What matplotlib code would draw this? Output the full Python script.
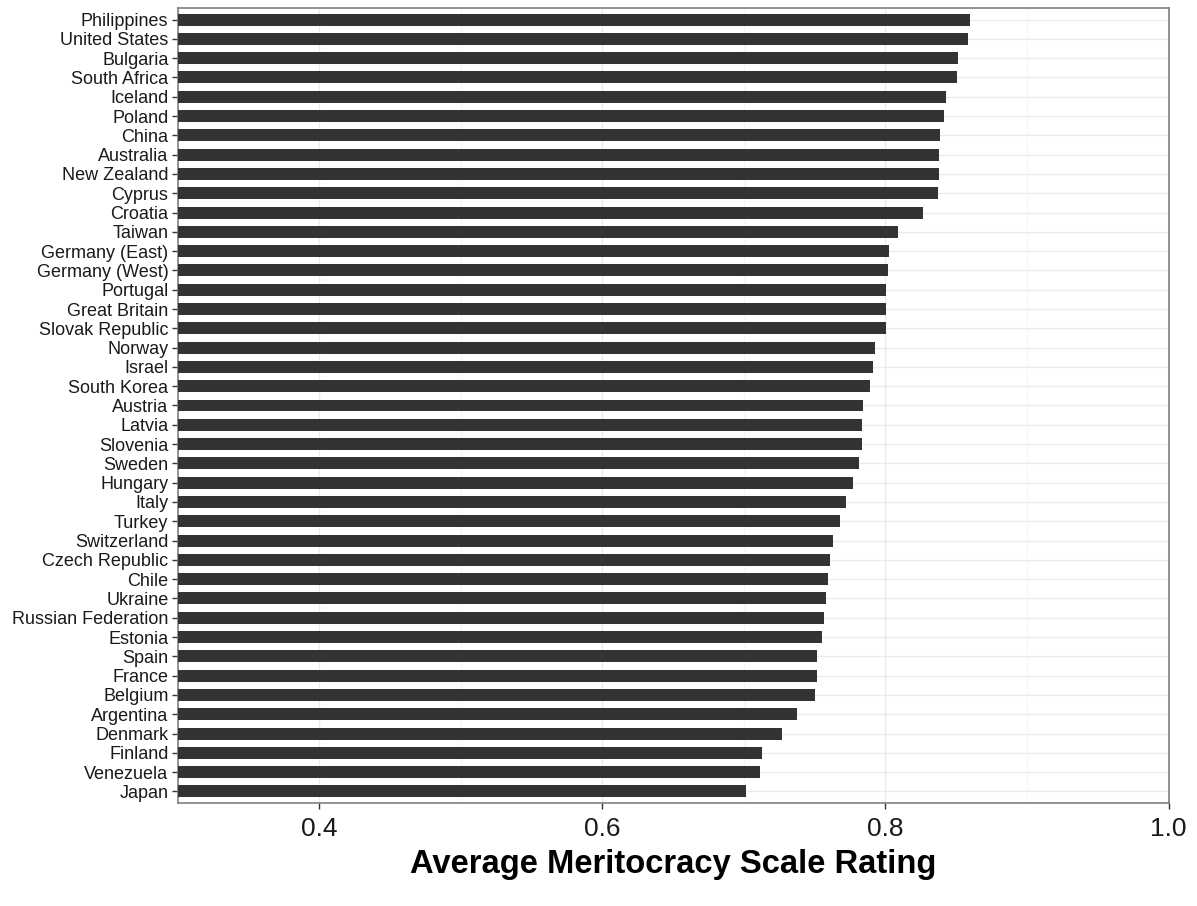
import matplotlib
matplotlib.use("Agg")
import matplotlib.pyplot as plt
from matplotlib.ticker import MultipleLocator

countries = ["Philippines", "United States", "Bulgaria", "South Africa", "Iceland", "Poland",
             "China", "Australia", "New Zealand", "Cyprus", "Croatia", "Taiwan",
             "Germany (East)", "Germany (West)", "Portugal", "Great Britain", "Slovak Republic",
             "Norway", "Israel", "South Korea", "Austria", "Latvia", "Slovenia", "Sweden",
             "Hungary", "Italy", "Turkey", "Switzerland", "Czech Republic", "Chile", "Ukraine",
             "Russian Federation", "Estonia", "Spain", "France", "Belgium", "Argentina",
             "Denmark", "Finland", "Venezuela", "Japan"]
values = [0.860, 0.8587, 0.8516, 0.8509, 0.843, 0.8417,
          0.8389, 0.838, 0.838, 0.8375, 0.8269, 0.8092,
          0.8028, 0.8021, 0.8007, 0.8007, 0.8007,
          0.7929, 0.7915, 0.7894, 0.7845, 0.7837, 0.7837, 0.7816,
          0.7774, 0.7724, 0.7682, 0.7633, 0.7611, 0.7597, 0.7583,
          0.7569, 0.7555, 0.7519, 0.7519, 0.7505, 0.7378,
          0.7272, 0.7131, 0.7117, 0.7018]
x_ticks = [0.4, 0.6, 0.8, 1.0]
x_label = "Average Meritocracy Scale Rating"

plt.rcParams['font.family'] = ['Liberation Sans', 'DejaVu Sans']
fig = plt.figure(figsize=(11.97, 9.06), dpi=100)
ax = fig.add_axes([177.5/1197, 1 - 803/906, (1168.5-177.5)/1197, (803-8)/906])

n = len(countries)
ypos = list(range(n))
ax.barh(ypos, values, height=0.62, color="#333333", zorder=3)
ax.set_ylim(n - 1 + 0.6, -0.6)
ax.set_xlim(0.3, 1.0)
ax.set_yticks(ypos)
ax.set_yticklabels(countries, fontsize=13, color="#1a1a1a")
ax.set_xticks(x_ticks)
ax.set_xticklabels([f"{t:.1f}" for t in x_ticks], fontsize=19, color="#1a1a1a")
ax.xaxis.set_minor_locator(MultipleLocator(0.1))

ax.grid(True, which="major", axis="both", color="#EBEBEB", linewidth=1.0, zorder=0)
ax.grid(True, which="minor", axis="x", color="#F5F5F5", linewidth=0.8, zorder=0)
ax.tick_params(axis="both", which="major", length=4.5, color="#333333", width=1.0)
ax.tick_params(axis="x", which="minor", length=0)
ax.tick_params(axis="y", pad=2)
ax.tick_params(axis="x", pad=5.5)
for s in ax.spines.values():
    s.set_color("#7F7F7F")
    s.set_linewidth(1.2)

fig.text((177.5+1168.5)/2/1197, 1 - 865/906, x_label, ha="center", va="center",
         fontsize=23.6, fontweight="bold", color="black")

fig.savefig("out.png", dpi=100)
